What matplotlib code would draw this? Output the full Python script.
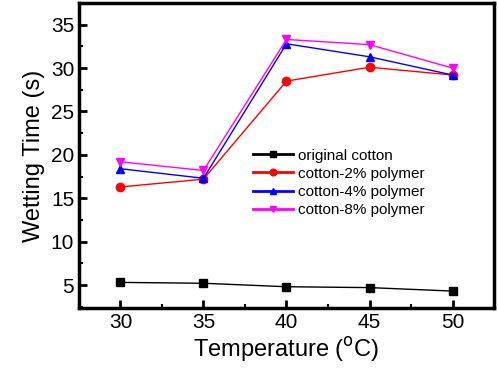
import matplotlib
matplotlib.use("Agg")
import matplotlib.pyplot as plt
from matplotlib.ticker import MultipleLocator

plt.rcParams['font.family'] = ['Liberation Sans', 'DejaVu Sans']

temps = [30, 35, 40, 45, 50]
original = [5.3, 5.2, 4.8, 4.7, 4.3]
p2 = [16.3, 17.2, 28.5, 30.1, 29.2]
p4 = [18.4, 17.3, 32.8, 31.3, 29.2]
p8 = [19.2, 18.2, 33.3, 32.7, 30.0]
labels = ["original cotton", "cotton-2% polymer", "cotton-4% polymer", "cotton-8% polymer"]

fig = plt.figure(figsize=(4.98, 3.75), dpi=100)
ax = fig.add_axes([79/498, 1-308/375, (494-79)/498, (308-3)/375])

ax.plot(temps, original, color='black', marker='s', ms=6, lw=1, label=labels[0])
ax.plot(temps, p2, color='red', marker='o', ms=6, lw=1, label=labels[1])
ax.plot(temps, p4, color='blue', marker='^', ms=6, lw=1, label=labels[2])
ax.plot(temps, p8, color='magenta', marker='v', ms=6, lw=1, label=labels[3])

ax.set_xlim(27.5, 52.5)
ax.set_ylim(2.35, 37.5)
ax.xaxis.set_major_locator(MultipleLocator(5))
ax.xaxis.set_minor_locator(MultipleLocator(2.5))
ax.yaxis.set_major_locator(MultipleLocator(5))
ax.yaxis.set_minor_locator(MultipleLocator(2.5))
ax.yaxis.set_major_formatter(plt.FuncFormatter(lambda v, p: f"{v:g}" if v >= 5 else ""))
ax.tick_params(which='major', direction='in', length=6, width=2, labelsize=15)
ax.tick_params(which='minor', direction='in', length=3, width=1.5)
for s in ax.spines.values():
    s.set_linewidth(2.5)

ax.set_xlabel("Temperature ($^{\\mathrm{o}}$C)", fontsize=17, labelpad=2)
ax.set_ylabel("Wetting Time (s)", fontsize=17, labelpad=4)

leg = ax.legend(loc='center left', bbox_to_anchor=(0.42, 0.41), frameon=False, fontsize=11,
                handlelength=2.6, labelspacing=0.28, handletextpad=0.3,
                borderpad=0, borderaxespad=0, markerscale=0.8)
for h in leg.get_lines():
    h.set_linewidth(2)

fig.savefig("out.png", dpi=100)
